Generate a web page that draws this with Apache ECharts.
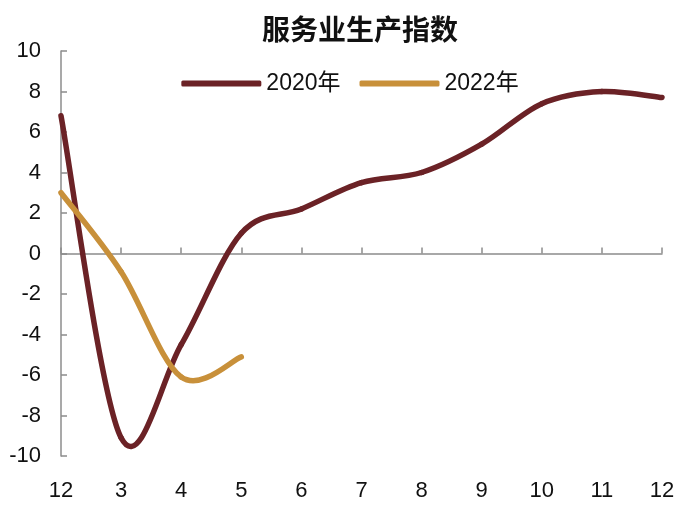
<!DOCTYPE html>
<html>
<head>
<meta charset="utf-8">
<script src="https://cdn.jsdelivr.net/npm/echarts@6/dist/echarts.min.js"></script>
<style>html,body{margin:0;padding:0;background:#fff}#c{width:700px;height:508px}</style>
</head>
<body>
<div id="c"></div>
<script>
var categories = ['12','3','4','5','6','7','8','9','10','11','12'];
var series2020 = [6.8, -9.1, -4.5, 1.0, 2.2, 3.5, 4.0, 5.4, 7.4, 8.0, 7.7];
var series2022 = [3.0, -0.9, -6.1, -5.1];
var yTicks = {min: -10, max: 10, interval: 2};

var chart = echarts.init(document.getElementById('c'));
var font = 'Liberation Sans, Arial, Noto Sans CJK SC, sans-serif';

// Smooth line drawn as cubic Bezier segments between the real data points
// (Catmull-Rom style tangents), positioned through the chart's own axes.
function smoothSeries(name, vals, color) {
  return {
    name: name, type: 'custom', xAxisIndex: 0, yAxisIndex: 0,
    data: vals.map(function (v, i) { return [i, v]; }),
    encode: {x: 0, y: 1},
    itemStyle: {color: color},
    clip: false,
    renderItem: function (params, api) {
      var i = params.dataIndex;
      if (i >= vals.length - 1) return {type: 'group', children: []};
      var p = function (k) {
        k = Math.max(0, Math.min(vals.length - 1, k));
        return api.coord([k, vals[k]]);
      };
      var p0 = p(i - 1), p1 = p(i), p2 = p(i + 1), p3 = p(i + 2);
      return {
        type: 'bezierCurve',
        shape: {
          x1: p1[0], y1: p1[1], x2: p2[0], y2: p2[1],
          cpx1: p1[0] + (p2[0] - p0[0]) / 6, cpy1: p1[1] + (p2[1] - p0[1]) / 6,
          cpx2: p2[0] - (p3[0] - p1[0]) / 6, cpy2: p2[1] - (p3[1] - p1[1]) / 6
        },
        style: {fill: null, stroke: color, lineWidth: 5.5, lineCap: 'round'}
      };
    }
  };
}

chart.setOption({
  animation: false,
  title: {
    text: '服务业生产指数', left: 355, textAlign: 'center', top: 10,
    textStyle: {fontFamily: 'Noto Sans CJK SC, sans-serif', fontSize: 28, fontWeight: 'bold', color: '#111'}
  },
  legend: {
    top: 67, left: 'center', itemWidth: 80, itemHeight: 6, itemGap: 19,
    icon: 'roundRect',
    textStyle: {fontFamily: font, fontSize: 23, color: '#111'},
    data: ['2020年', '2022年']
  },
  grid: {left: 61, right: 38, top: 51, bottom: 52},
  xAxis: [{
    type: 'category', data: categories, boundaryGap: false,
    axisLine: {onZero: true, lineStyle: {color: '#8c8c8c', width: 1.5}},
    axisTick: {inside: true, length: 6, lineStyle: {color: '#8c8c8c', width: 1.5}},
    axisLabel: {show: false}, splitLine: {show: false}
  }, {
    type: 'category', data: categories, boundaryGap: false, position: 'bottom',
    axisLine: {show: false, onZero: false}, axisTick: {show: false},
    axisLabel: {fontFamily: font, fontSize: 22, color: '#111', margin: 24}
  }],
  yAxis: {
    type: 'value', min: yTicks.min, max: yTicks.max, interval: yTicks.interval,
    axisLine: {show: true, lineStyle: {color: '#8c8c8c', width: 1.5}},
    axisTick: {show: true, inside: true, length: 6, lineStyle: {color: '#8c8c8c', width: 1.5}},
    axisLabel: {fontFamily: font, fontSize: 22, color: '#111', margin: 20},
    splitLine: {show: false}
  },
  series: [
    smoothSeries('2020年', series2020, '#6B2226'),
    smoothSeries('2022年', series2022, '#C8903A')
  ]
});
</script>
</body>
</html>
